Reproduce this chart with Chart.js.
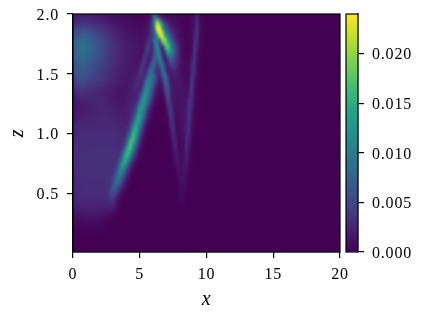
<!DOCTYPE html>
<html>
<head>
<meta charset="utf-8">
<title>Heatmap</title>
<script src="https://cdn.jsdelivr.net/npm/chart.js@4"></script>
<style>
  html, body { margin: 0; padding: 0; background: #fff; }
  #wrap { position: relative; width: 421px; height: 317px; }
  canvas { position: absolute; left: 0; top: 0; }
</style>
</head>
<body>
<div id="wrap">
  <canvas id="heatChart" width="421" height="317"></canvas>
  <canvas id="barChart" width="421" height="317"></canvas>
</div>
<script>
const xTicks = [0, 5, 10, 15, 20];
const zTicks = [0.5, 1.0, 1.5, 2.0];
const colorTicks = [0, 0.005, 0.01, 0.015, 0.02];
const colorMax = 0.024;
const valueUnit = 0.0001;

// cell size of the grid below, x from 0, z from 2 going down
const xStep = 0.2;
const zStep = 0.05;

// one row per z (top row first), values in units of 1e-4
// rows stop where the rest is zero
const heatRows = [
  [18,20,22,22,22, 22,21,20,19,18, 16,15,13,12,11, 10,9,8,8,7, 6,6,5,5,4, 4,4,5,9,28, 85,60,30,16,10, 7,6,5,4,3, 2,2,2,2,4, 8,24,6,2,1],
  [28,31,33,34,34, 33,32,30,28,26, 24,22,20,18,15, 14,12,11,10,9, 8,7,6,6,5, 5,6,8,16,40, 130,215,170,85,45, 24,16,11,8,6, 4,3,2,3,6, 12,34,8,3,1],
  [42,47,50,52,52, 50,47,44,41,37, 36,33,30,27,24, 21,19,17,15,13, 11,10,9,8,7, 7,8,10,20,40, 100,230,240,150,80, 50,32,20,13,9, 5,3,2,3,6, 16,36,9,3,1],
  [55,62,67,70,70, 67,63,58,53,48, 46,42,37,33,29, 26,23,20,18,16, 14,13,12,11,10, 8,10,14,22,38, 62,130,225,225,140, 90,55,34,20,12, 6,4,3,4,5, 22,32,8,3,1],
  [66,74,80,82,82, 78,73,67,61,56, 53,48,42,37,33, 29,25,22,20,18, 16,15,14,13,12, 9,11,18,40,35, 85,95,65,190,205, 145,92,55,32,18, 8,4,3,4,5, 26,28,6,2,1],
  [72,80,84,86,85, 82,76,70,64,59, 56,51,45,40,36, 32,28,25,22,20, 18,16,15,14,13, 10,14,38,40,25, 70,110,55,30,140, 180,125,80,46,26, 10,5,3,4,7, 32,22,5,2,1],
  [70,79,84,85,84, 80,75,69,63,59, 56,50,44,39,35, 32,28,25,22,20, 18,17,16,15,14, 12,20,42,28,30, 55,100,95,22,40, 120,115,85,52,30, 12,6,4,5,10, 36,16,4,2,1],
  [66,74,78,80,78, 74,69,64,59,55, 52,47,42,37,33, 30,26,24,21,19, 17,16,15,14,14, 14,38,30,14,35, 75,75,105,50,16, 45,75,60,40,24, 10,5,4,5,15, 36,12,3,1,0],
  [60,67,71,72,70, 66,62,57,53,50, 47,43,38,34,30, 27,24,22,19,17, 16,15,15,14,15, 30,36,20,30,70, 75,40,80,90,30, 22,38,44,32,20, 10,6,5,9,26, 34,9,2,1,0],
  [55,62,65,66,64, 60,56,52,48,45, 43,39,35,32,29, 26,22,20,18,17, 16,15,15,16,24, 38,28,28,70,85, 55,30,35,88,60, 20,18,22,22,15, 10,7,5,7,26, 32,8,3,1,0],
  [50,56,60,60,58, 55,51,47,44,42, 40,37,33,30,27, 24,21,19,17,16, 15,15,17,20,26, 32,26,55,98,92, 66,37,22,58,85, 40,18,17,18,16, 12,8,6,8,36, 22,7,2,1,0],
  [40,46,49,50,49, 46,43,40,38,36, 36,33,30,27,25, 22,19,17,16,15, 15,17,20,26,30, 20,48,98,108,85, 52,26,14,22,72, 58,20,14,15,15, 13,10,8,10,40, 16,5,2,1,0],
  [30,35,38,39,38, 36,34,32,30,28, 26,24,22,20,18, 16,14,13,13,14, 15,18,22,26,24, 27,80,115,100,70, 35,14,8,12,50, 60,25,13,13,14, 13,11,9,16,40, 10,4,1,0,0],
  [22,25,28,29,28, 28,27,26,25,24, 23,22,20,19,17, 15,14,13,13,14, 16,19,22,22,26, 60,112,115,85,50, 22,9,5,6,26, 58,28,13,12,13, 13,12,11,22,36, 9,3,1,0,0],
  [16,18,20,21,21, 22,23,23,24,24, 24,23,22,20,18, 16,15,14,14,15, 17,20,22,28,45, 105,124,100,65,32, 12,5,3,3,10, 48,30,13,11,12, 13,13,16,30,30, 7,3,1,0,0],
  [14,15,16,17,18, 19,20,22,23,24, 25,25,24,22,20, 19,17,16,16,17, 19,22,26,36,94, 130,113,77,39,16, 5,2,1,1,4, 28,40,16,10,11, 13,14,16,36,24, 6,2,1,0,0],
  [16,17,18,19,19, 20,21,22,23,24, 25,25,25,24,22, 20,19,18,18,18, 20,24,38,65,124, 122,88,48,18,6, 3,1,1,1,2, 14,40,20,9,10, 12,14,18,36,18, 5,2,1,0,0],
  [19,20,21,22,22, 23,24,24,25,25, 26,26,26,25,24, 23,22,21,20,20, 21,28,56,100,142, 112,70,32,11,3, 1,0,0,1,2, 6,32,26,9,9, 11,14,18,36,14, 4,1,0,0,0],
  [22,23,24,25,25, 26,26,26,26,26, 27,27,27,27,26, 25,24,23,22,22, 24,46,88,145,125, 80,40,14,4,1, 0,0,0,1,1, 3,22,30,10,8, 10,13,20,34,11, 3,1,0,0,0],
  [25,26,27,27,27, 28,28,28,28,28, 28,28,28,28,28, 27,26,25,25,25, 38,68,138,150,105, 55,22,7,2,0, 0,0,0,0,1, 2,14,30,12,7, 9,12,24,28,8, 2,1,0,0,0],
  [27,28,29,29,29, 30,30,30,30,30, 30,30,30,30,30, 29,29,28,28,32, 62,115,165,130,78, 34,12,4,1,0, 0,0,0,0,0, 1,8,26,16,6, 8,10,26,22,6, 1],
  [29,30,30,31,31, 31,31,31,31,31, 31,31,31,31,31, 30,29,29,31,48, 98,168,150,95,46, 16,5,1,0,0, 0,0,0,0,0, 1,4,20,20,6, 7,10,28,17,4, 1],
  [30,30,31,31,31, 31,32,32,32,32, 32,32,32,32,32, 31,30,30,46,82, 155,160,108,56,22, 7,2,0,0,0, 0,0,0,0,0, 0,2,12,20,7, 6,11,26,12,3],
  [30,31,31,32,32, 32,33,33,33,33, 33,33,33,33,33, 32,31,38,72,135, 160,115,66,30,10, 3,1,0,0,0, 0,0,0,0,0, 0,1,7,18,10, 6,12,22,9,2],
  [30,31,32,32,33, 33,33,33,33,33, 33,33,33,33,33, 31,36,62,112,150, 112,66,30,11,3, 1,0,0,0,0, 0,0,0,0,0, 0,0,4,12,12, 6,12,18,6,1],
  [30,31,32,32,33, 33,33,33,33,33, 33,33,33,33,32, 34,52,90,134,105, 62,30,11,3,0, 0,0,0,0,0, 0,0,0,0,0, 0,0,2,7,13, 6,13,14,4,1],
  [29,30,31,32,32, 32,33,33,33,33, 33,33,32,32,34, 45,70,114,95,60, 30,12,3,0,0, 0,0,0,0,0, 0,0,0,0,0, 0,0,1,3,10, 8,12,10,3],
  [28,29,30,31,31, 32,32,32,32,32, 32,32,32,33,38, 58,92,90,60,32, 13,4,1,0,0, 0,0,0,0,0, 0,0,0,0,0, 0,0,0,1,6, 9,11,7,2],
  [27,28,29,30,30, 31,31,31,31,31, 31,31,31,34,50, 72,78,56,32,14, 5,1,0,0,0, 0,0,0,0,0, 0,0,0,0,0, 0,0,0,0,3, 8,9,4,1],
  [26,27,28,29,29, 30,30,30,30,30, 29,29,30,38,56, 64,48,28,13,4, 1,0,0,0,0, 0,0,0,0,0, 0,0,0,0,0, 0,0,0,0,3, 7,6,2],
  [25,26,27,27,28, 28,28,28,28,28, 28,28,30,40,46, 38,24,12,4,1, 0,0,0,0,0, 0,0,0,0,0, 0,0,0,0,0, 0,0,0,0,2, 5,4,1],
  [22,23,24,25,25, 25,25,25,25,25, 25,25,26,30,30, 22,12,5,1,0, 0,0,0,0,0, 0,0,0,0,0, 0,0,0,0,0, 0,0,0,0,0, 3,2],
  [18,19,20,21,21, 21,21,21,21,20, 19,19,19,20,19, 13,7,2,0,0, 0,0,0,0,0, 0,0,0,0,0, 0,0,0,0,0, 0,0,0,0,0, 1,1],
  [12,13,14,14,15, 15,15,15,15,14, 14,13,12,10,7, 4,1],
  [7,7,8,8,9, 9,9,9,9,8, 8,7,5,3,2, 1],
  [3,3,4,4,4, 4,4,4,4,3, 3,2,2,1,1],
  [1,1,1,1,2, 2,2,2,1,1, 1,1],
  [],
  [],
  []
];

const gridCols = Math.max(...heatRows.map(r => r.length));
const fontFamily = "'Liberation Serif', serif";
const tickFont = { family: fontFamily, size: 16 };
const titleFont = { family: fontFamily, size: 20, style: "italic" };

// viridis stops, 0..1 in even steps
const viridis = [
  [68, 1, 84], [72, 36, 117], [65, 68, 135], [53, 95, 141], [42, 120, 142],
  [33, 145, 140], [34, 168, 132], [68, 191, 112], [122, 209, 81], [189, 223, 38], [253, 231, 37]
];

const viridisAt = (t) => {
  const p = Math.min(Math.max(t, 0), 1) * (viridis.length - 1);
  const i = Math.min(Math.floor(p), viridis.length - 2);
  const f = p - i;
  return viridis[i].map((c, k) => c + (viridis[i + 1][k] - c) * f);
};

// the grid goes into a small canvas, one pixel per cell, and gets stretched onto the scales
const buildCells = () => {
  const cells = document.createElement("canvas");
  cells.width = gridCols;
  cells.height = heatRows.length;
  const cellCtx = cells.getContext("2d");
  const img = cellCtx.createImageData(gridCols, heatRows.length);
  heatRows.forEach((row, r) => {
    for (let c = 0; c < gridCols; c++) {
      const v = (row[c] || 0) * valueUnit;
      const rgb = viridisAt(v / colorMax);
      const at = (r * gridCols + c) * 4;
      img.data[at] = rgb[0];
      img.data[at + 1] = rgb[1];
      img.data[at + 2] = rgb[2];
      img.data[at + 3] = 255;
    }
  });
  cellCtx.putImageData(img, 0, 0);
  return cells;
};

const cellCanvas = buildCells();

const heatPlugin = {
  id: "heat",
  beforeDatasetsDraw(chart) {
    const { ctx, chartArea, scales } = chart;
    const rgb = viridisAt(0);
    ctx.save();
    ctx.beginPath();
    ctx.rect(chartArea.left, chartArea.top, chartArea.width, chartArea.height);
    ctx.clip();
    ctx.fillStyle = `rgb(${rgb.join(",")})`;
    ctx.fillRect(chartArea.left, chartArea.top, chartArea.width, chartArea.height);
    const left = scales.x.getPixelForValue(0);
    const right = scales.x.getPixelForValue(gridCols * xStep);
    const top = scales.y.getPixelForValue(2);
    const bottom = scales.y.getPixelForValue(2 - heatRows.length * zStep);
    ctx.imageSmoothingEnabled = true;
    ctx.imageSmoothingQuality = "high";
    ctx.drawImage(cellCanvas, left, top, right - left, bottom - top);
    ctx.restore();
  }
};

const framePlugin = {
  id: "frame",
  beforeDraw(chart) {
    // Computer Modern digits run wider than Liberation Serif
    chart.ctx.letterSpacing = "0.8px";
  },
  afterDraw(chart) {
    const { ctx, chartArea } = chart;
    ctx.save();
    ctx.strokeStyle = "#000";
    ctx.lineWidth = 1.2;
    ctx.strokeRect(chartArea.left, chartArea.top, chartArea.width, chartArea.height);
    ctx.restore();
  }
};

const axisLook = {
  grid: { drawOnChartArea: false, color: "#000", lineWidth: 1.2, tickLength: 6 },
  border: { display: true, color: "#000", width: 1.2 }
};

// tick padding would otherwise push the plot area away from the layout padding
const fitHeight = (h) => (axis) => {
  axis.height = h;
  axis.paddingLeft = 0;
  axis.paddingRight = 0;
};
const fitWidth = (w) => (axis) => {
  axis.width = w;
  axis.paddingTop = 0;
  axis.paddingBottom = 0;
};

const cellPoints = [];
heatRows.forEach((row, r) => {
  row.forEach((v, c) => {
    cellPoints.push({ x: (c + 0.5) * xStep, y: 2 - (r + 0.5) * zStep, v: v * valueUnit });
  });
});

new Chart(document.getElementById("heatChart"), {
  type: "scatter",
  data: { datasets: [{ data: cellPoints, pointRadius: 0, pointHoverRadius: 0 }] },
  options: {
    responsive: false,
    animation: false,
    events: [],
    layout: { padding: { left: 0, right: 81, top: 14, bottom: 0 } },
    plugins: { legend: { display: false }, tooltip: { enabled: false } },
    scales: {
      x: {
        type: "linear",
        min: xTicks[0],
        max: xTicks[xTicks.length - 1],
        ...axisLook,
        afterBuildTicks: (axis) => { axis.ticks = xTicks.map(value => ({ value })); },
        afterFit: fitHeight(65),
        ticks: { color: "#000", font: tickFont, padding: 7, maxRotation: 0, callback: (v) => String(v) },
        title: { display: true, text: "x", color: "#000", font: titleFont, padding: { top: 4, bottom: 5 } }
      },
      y: {
        type: "linear",
        min: 0.01,
        max: 2,
        ...axisLook,
        afterBuildTicks: (axis) => { axis.ticks = zTicks.map(value => ({ value })); },
        afterFit: fitWidth(73),
        ticks: { color: "#000", font: tickFont, padding: 8, labelOffset: 1.5, callback: (v) => v.toFixed(1) },
        title: { display: true, text: "z", color: "#000", font: titleFont, padding: { top: 6, bottom: 0 } }
      }
    }
  },
  plugins: [heatPlugin, framePlugin]
});

// colorbar is its own small chart, one bar from 0 to colorMax
new Chart(document.getElementById("barChart"), {
  type: "bar",
  data: {
    labels: [""],
    datasets: [{
      data: [[0, colorMax]],
      categoryPercentage: 1,
      barPercentage: 1,
      borderWidth: 0,
      backgroundColor: (context) => {
        const { chart } = context;
        if (!chart.chartArea) return "#000";
        const bottom = chart.scales.y.getPixelForValue(0);
        const top = chart.scales.y.getPixelForValue(colorMax);
        const grad = chart.ctx.createLinearGradient(0, bottom, 0, top);
        viridis.forEach((c, i) => grad.addColorStop(i / (viridis.length - 1), `rgb(${c.join(",")})`));
        return grad;
      }
    }]
  },
  options: {
    responsive: false,
    animation: false,
    events: [],
    layout: { padding: { left: 346, right: 0, top: 14, bottom: 65 } },
    plugins: { legend: { display: false }, tooltip: { enabled: false } },
    scales: {
      x: { display: false },
      y: {
        position: "right",
        min: 0,
        max: colorMax,
        ...axisLook,
        afterBuildTicks: (axis) => { axis.ticks = colorTicks.map(value => ({ value })); },
        afterFit: fitWidth(63),
        ticks: { color: "#000", font: tickFont, padding: 8, labelOffset: 1.5, callback: (v) => v.toFixed(3) }
      }
    }
  },
  plugins: [framePlugin]
});
</script>
</body>
</html>
